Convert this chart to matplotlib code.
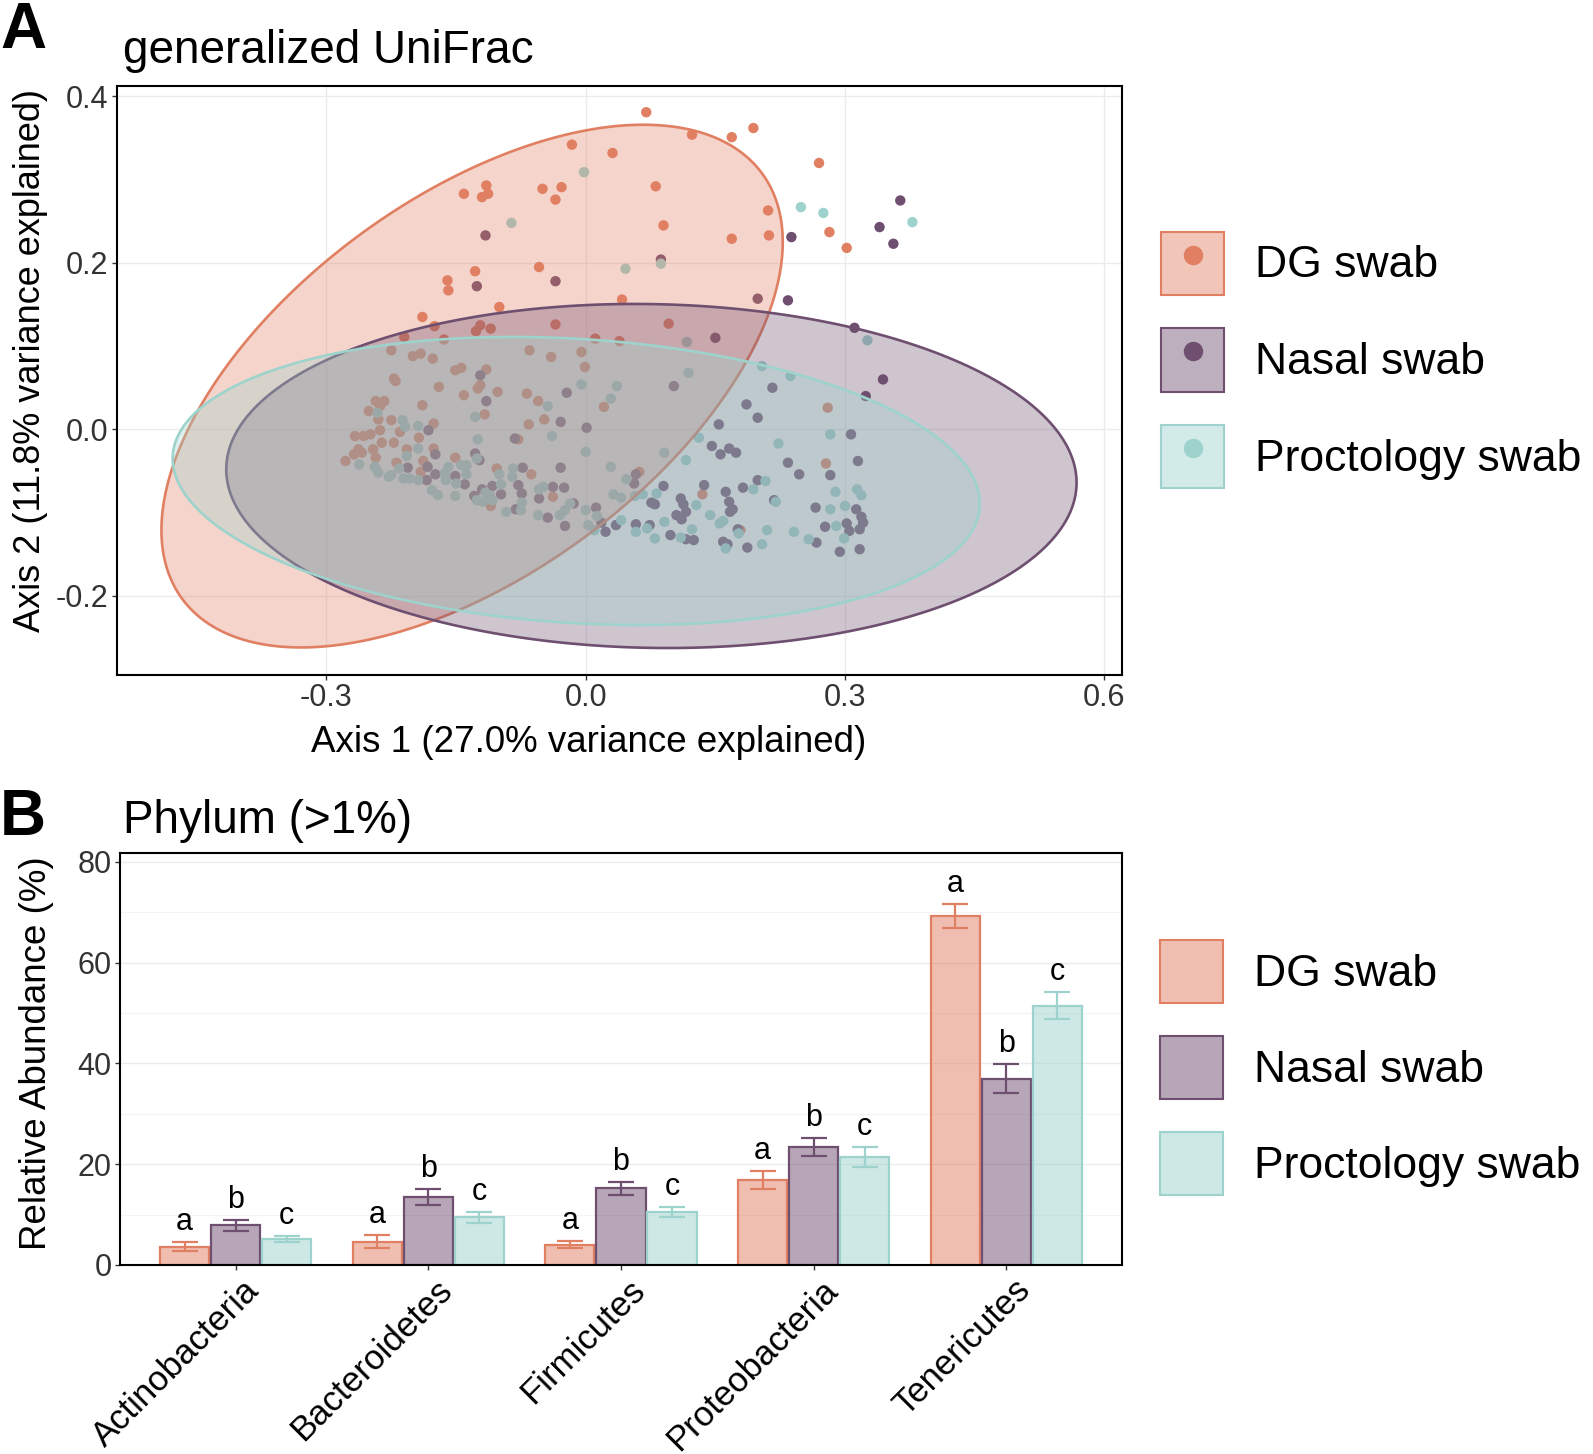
import numpy as np
import matplotlib
matplotlib.use("Agg")
import matplotlib.pyplot as plt
import matplotlib.transforms as mtransforms
from matplotlib.patches import Polygon, Patch
from matplotlib.lines import Line2D
from matplotlib.colors import to_rgba

plt.rcParams['font.family'] = ['Liberation Sans', 'DejaVu Sans']
plt.rcParams['axes.unicode_minus'] = False

groups = ['DG swab', 'Nasal swab', 'Proctology swab']
colors = ['#E07F62', '#6F4F70', '#9DD3CC']

# ---- panel A: PCoA scores ----
dg_pts = [
    (-0.016, 0.342), (0.031, 0.332), (-0.115, 0.293), (-0.141, 0.283), (-0.120, 0.279), (-0.113, 0.283),
    (-0.050, 0.289), (-0.028, 0.291), (-0.035, 0.276), (-0.054, 0.195), (-0.128, 0.190), (-0.160, 0.179),
    (-0.159, 0.167), (-0.100, 0.147), (-0.189, 0.135), (-0.175, 0.124), (-0.122, 0.125), (-0.127, 0.118),
    (-0.110, 0.121), (-0.035, 0.126), (-0.210, 0.111), (-0.164, 0.108), (0.011, 0.109), (-0.225, 0.095),
    (-0.200, 0.088), (-0.191, 0.091), (-0.177, 0.085), (-0.065, 0.095), (-0.040, 0.087), (-0.005, 0.093),
    (-0.001, 0.075), (-0.151, 0.071), (-0.144, 0.074), (-0.115, 0.072), (-0.222, 0.061),
    (0.070, 0.381), (0.123, 0.354), (0.169, 0.351), (0.194, 0.362), (0.081, 0.292), (0.270, 0.320),
    (0.211, 0.263), (0.090, 0.245), (0.169, 0.229), (0.212, 0.233), (0.282, 0.237), (0.302, 0.218),
    (0.042, 0.156), (0.096, 0.127), (0.039, 0.106),
    (0.021, 0.027), (0.280, 0.026), (0.278, -0.041), (0.062, -0.051), (0.135, -0.078), (0.179, -0.121),
    (-0.220, 0.058), (-0.170, 0.051), (-0.125, 0.049), (-0.122, 0.053), (-0.102, 0.045), (-0.141, 0.041),
    (-0.068, 0.043), (-0.055, 0.034), (-0.243, 0.034), (-0.233, 0.034), (-0.238, 0.028), (-0.251, 0.022),
    (-0.189, 0.029), (-0.240, 0.012), (-0.225, 0.011), (-0.176, 0.007), (-0.117, 0.018), (-0.066, 0.006),
    (-0.048, 0.012), (-0.078, -0.012), (-0.267, -0.008), (-0.257, -0.008), (-0.249, -0.006), (-0.238, -0.001),
    (-0.222, -0.016), (-0.236, -0.016), (-0.193, -0.010), (-0.215, -0.003), (-0.263, -0.024), (-0.246, -0.024),
    (-0.259, -0.028), (-0.268, -0.030), (-0.278, -0.038), (-0.243, -0.034), (-0.207, -0.024), (-0.176, -0.023),
    (-0.151, -0.034), (-0.219, -0.040), (-0.188, -0.038), (-0.191, -0.051), (-0.103, -0.047), (-0.063, -0.054),
    (-0.038, -0.081), (-0.110, -0.092),
]
nasal_pts = [
    (-0.116, 0.233), (-0.126, 0.172), (-0.035, 0.178), (-0.122, 0.065),
    (0.364, 0.275), (0.340, 0.243), (0.356, 0.223), (0.238, 0.231), (0.087, 0.204), (0.199, 0.157),
    (0.234, 0.155), (0.150, 0.110), (0.311, 0.122), (0.344, 0.060),
    (0.102, 0.052), (0.216, 0.050), (0.324, 0.040), (0.186, 0.030), (0.199, 0.014), (0.154, 0.006),
    (0.307, -0.006), (0.146, -0.020), (0.166, -0.023), (0.156, -0.030), (0.174, -0.028), (0.234, -0.040),
    (0.315, -0.038), (0.247, -0.054), (0.283, -0.055), (0.058, -0.054), (0.056, -0.065), (0.199, -0.061),
    (0.090, -0.068), (0.137, -0.067), (0.182, -0.070), (0.162, -0.075), (0.110, -0.083), (0.076, -0.088),
    (0.080, -0.090), (0.113, -0.090), (0.166, -0.087), (0.218, -0.085), (0.266, -0.094), (0.313, -0.096),
    (0.116, -0.099), (0.167, -0.099), (0.170, -0.096), (0.105, -0.103), (0.111, -0.108), (0.319, -0.105),
    (0.321, -0.112), (0.035, -0.115), (0.023, -0.123), (0.058, -0.114), (0.074, -0.115), (0.176, -0.120),
    (0.277, -0.117), (0.302, -0.113), (0.305, -0.122), (0.317, -0.120), (0.098, -0.127), (0.116, -0.132),
    (0.125, -0.133), (0.159, -0.135), (0.164, -0.138), (0.187, -0.142), (0.267, -0.136), (0.294, -0.147),
    (0.317, -0.144),
    (-0.022, 0.044), (-0.115, 0.034), (-0.182, -0.001), (-0.029, 0.009), (0.001, 0.002), (-0.082, -0.011),
    (-0.174, -0.030), (-0.128, -0.029), (-0.123, -0.037), (-0.206, -0.046), (-0.183, -0.045), (-0.174, -0.054),
    (-0.184, -0.061), (-0.151, -0.056), (-0.140, -0.066), (-0.073, -0.046), (-0.029, -0.046), (-0.078, -0.067),
    (-0.108, -0.068), (-0.120, -0.072), (-0.129, -0.080), (-0.098, -0.078), (-0.074, -0.077), (-0.038, -0.069),
    (-0.025, -0.070), (-0.054, -0.083), (-0.081, -0.096), (-0.044, -0.106), (-0.014, -0.089), (-0.024, -0.116),
    (0.012, -0.094), (0.018, -0.112),
]
proct_pts = [
    (-0.002, 0.309), (-0.086, 0.248),
    (0.249, 0.267), (0.275, 0.260), (0.378, 0.249), (0.087, 0.199), (0.046, 0.193), (0.117, 0.105),
    (0.326, 0.107), (0.204, 0.076), (0.237, 0.064), (0.119, 0.068),
    (0.036, 0.052), (0.029, 0.037), (0.131, -0.010), (0.283, -0.006), (0.223, -0.017), (0.091, -0.028),
    (0.029, -0.045), (0.116, -0.037), (0.047, -0.060), (0.208, -0.062), (0.194, -0.072), (0.314, -0.072),
    (0.319, -0.079), (0.289, -0.075), (0.032, -0.078), (0.041, -0.082), (0.057, -0.080), (0.066, -0.078),
    (0.082, -0.077), (0.220, -0.087), (0.128, -0.091), (0.283, -0.096), (0.300, -0.092), (0.144, -0.103),
    (0.041, -0.109), (0.058, -0.123), (0.071, -0.119), (0.091, -0.111), (0.155, -0.113), (0.159, -0.110),
    (0.177, -0.125), (0.210, -0.121), (0.241, -0.123), (0.290, -0.116), (0.080, -0.131), (0.123, -0.120),
    (0.110, -0.130), (0.162, -0.143), (0.204, -0.138), (0.258, -0.132), (0.299, -0.131),
    (-0.005, 0.054), (-0.044, 0.028), (-0.241, 0.020), (-0.212, 0.011), (-0.209, 0.003), (-0.194, 0.004),
    (-0.128, 0.015), (-0.039, -0.008), (-0.125, -0.012), (-0.262, -0.042), (-0.244, -0.045), (-0.240, -0.052),
    (-0.207, -0.032), (-0.194, -0.023), (-0.126, -0.035), (-0.216, -0.047), (-0.228, -0.057), (-0.225, -0.055),
    (-0.211, -0.059), (-0.204, -0.059), (-0.194, -0.061), (-0.159, -0.045), (-0.163, -0.053), (-0.144, -0.043),
    (-0.138, -0.043), (-0.138, -0.054), (-0.162, -0.061), (-0.150, -0.065), (-0.178, -0.073), (-0.171, -0.079),
    (-0.151, -0.080), (-0.100, -0.054), (-0.084, -0.047), (-0.085, -0.057), (-0.098, -0.066), (-0.116, -0.076),
    (-0.111, -0.079), (-0.054, -0.072), (-0.049, -0.069), (-0.126, -0.085), (-0.119, -0.087), (-0.108, -0.085),
    (-0.074, -0.088), (-0.092, -0.099), (-0.075, -0.097), (-0.055, -0.103), (-0.030, -0.103), (-0.024, -0.097),
    (-0.018, -0.089), (0.000, -0.097), (0.013, -0.104), (0.003, -0.115), (0.010, -0.121), (0.000, -0.027),
]

# 95% ellipses: centre, conjugate half-axis U (to the x-extreme), vertical half-chord h
ell_center = [(-0.1315, 0.052), (0.076, -0.056), (-0.011, -0.062)]
ell_u = [(0.3595, 0.173), (0.492, -0.008), (0.467, -0.027)]
ell_h = [0.262, 0.2065, 0.1709]

# ---- panel B: phylum relative abundance ----
phyla = ['Actinobacteria', 'Bacteroidetes', 'Firmicutes', 'Proteobacteria', 'Tenericutes']
dg_mean = [3.6, 4.6, 4.0, 16.8, 69.3]
dg_se = [0.9, 1.3, 0.7, 1.8, 2.4]
nasal_mean = [7.9, 13.5, 15.2, 23.4, 37.0]
nasal_se = [1.1, 1.5, 1.3, 1.8, 2.8]
proct_mean = [5.1, 9.5, 10.5, 21.4, 51.5]
proct_se = [0.6, 1.1, 1.0, 2.0, 2.6]
letters = ['a', 'b', 'c']

fig = plt.figure(figsize=(15.93, 14.54), dpi=100)

# ================= Panel A =================
axA = fig.add_axes([0.0734, 0.5358, 0.631, 0.405])
for pts, c in zip([dg_pts, nasal_pts, proct_pts], colors):
    arr = np.array(pts)
    axA.scatter(arr[:, 0], arr[:, 1], s=56, color=c, edgecolors='none', zorder=2)

t = np.linspace(0, 2 * np.pi, 300)
for (cx, cy), (ux, uy), h, c in zip(ell_center, ell_u, ell_h, colors):
    ex = cx + ux * np.cos(t)
    ey = cy + uy * np.cos(t) + h * np.sin(t)
    axA.add_patch(Polygon(np.column_stack([ex, ey]), closed=True,
                          facecolor=to_rgba(c, 0.33), edgecolor=c, lw=1.9, zorder=3))

axA.set_xlim(-0.5425, 0.6207)
axA.set_ylim(-0.295, 0.4124)
axA.set_xticks([-0.3, 0.0, 0.3, 0.6])
axA.set_xticklabels(['-0.3', '0.0', '0.3', '0.6'])
axA.set_yticks([-0.2, 0.0, 0.2, 0.4])
axA.set_yticklabels(['-0.2', '0.0', '0.2', '0.4'])
axA.grid(True, color='#EBEBEB', lw=1.0, zorder=0)
axA.set_axisbelow(True)
axA.tick_params(labelsize=22, length=3.5, width=1, color='#333333', labelcolor='#333333', pad=2.5)
for s in axA.spines.values():
    s.set_linewidth(1.5)
axA.set_xlabel('Axis 1 (27.0% variance explained)', fontsize=26.5)
axA.xaxis.set_label_coords(0.469, -0.085)
axA.set_ylabel('Axis 2 (11.8% variance explained)', fontsize=26)
axA.yaxis.set_label_coords(-0.069, 0.534)

handlesA = [(Patch(facecolor=to_rgba(c, 0.45), edgecolor=c, lw=1.5),
             Line2D([], [], marker='o', ls='', color=c, markersize=13)) for c in colors]
fig.legend(handlesA, groups, loc='upper left', bbox_to_anchor=(0.7289, 0.8407),
           frameon=False, fontsize=32, borderpad=0, handlelength=1.42, handleheight=1.806,
           labelspacing=0.76, handletextpad=0.69, borderaxespad=0)

# ================= Panel B =================
axB = fig.add_axes([0.0753, 0.130, 0.629, 0.2834])
xpos = np.arange(len(phyla))
offsets = [-0.265, 0.0, 0.265]
means = [dg_mean, nasal_mean, proct_mean]
ses = [dg_se, nasal_se, proct_se]
for k in range(3):
    xk = xpos + offsets[k]
    axB.bar(xk, means[k], width=0.255, color=to_rgba(colors[k], 0.5),
            edgecolor=colors[k], lw=1.6, zorder=2)
    axB.errorbar(xk, means[k], yerr=ses[k], fmt='none', ecolor=colors[k],
                 elinewidth=1.6, capsize=9.5, capthick=1.6, zorder=3)
    for xi, m, e in zip(xk, means[k], ses[k]):
        axB.text(xi, m + e + 1.0, letters[k], ha='center', va='bottom', fontsize=22)

axB.set_xlim(-0.6, 4.6)
axB.set_ylim(0, 81.8)
axB.set_yticks([0, 20, 40, 60, 80])
axB.set_yticks([10, 30, 50, 70], minor=True)
axB.yaxis.grid(True, which='major', color='#EBEBEB', lw=1.0, zorder=0)
axB.yaxis.grid(True, which='minor', color='#F3F3F3', lw=0.8, zorder=0)
axB.set_axisbelow(True)
axB.set_xticks(xpos)
axB.set_xticklabels(phyla, rotation=45, ha='right', rotation_mode='anchor')
axB.tick_params(axis='both', which='major', labelsize=22, length=3.5, width=1,
                color='#333333', labelcolor='#333333', pad=2.5)
axB.tick_params(axis='x', labelsize=25, labelcolor='black')
axB.tick_params(axis='y', which='minor', length=0)
shift = mtransforms.ScaledTranslation(5 / 72, 0, fig.dpi_scale_trans)
for lab in axB.get_xticklabels():
    lab.set_transform(lab.get_transform() + shift)
for s in axB.spines.values():
    s.set_linewidth(1.5)
axB.set_ylabel('Relative Abundance (%)', fontsize=26.5)
axB.yaxis.set_label_coords(-0.066, 0.514)

handlesB = [Patch(facecolor=to_rgba(c, 0.5), edgecolor=c, lw=1.5) for c in colors]
fig.legend(handlesB, groups, loc='upper left', bbox_to_anchor=(0.7283, 0.3536),
           frameon=False, fontsize=32, borderpad=0, handlelength=1.42, handleheight=1.806,
           labelspacing=0.74, handletextpad=0.69, borderaxespad=0)

# titles and panel letters
fig.text(0.077, 0.965, 'generalized UniFrac', fontsize=33, va='center', ha='left')
fig.text(0.077, 0.4354, 'Phylum (>1%)', fontsize=33, va='center', ha='left')
fig.text(0.0, 0.999, 'A', fontsize=46, fontweight='bold', va='top', ha='left')
fig.text(0.0, 0.458, 'B', fontsize=46, fontweight='bold', va='top', ha='left')

fig.savefig('out.png', dpi=100)
